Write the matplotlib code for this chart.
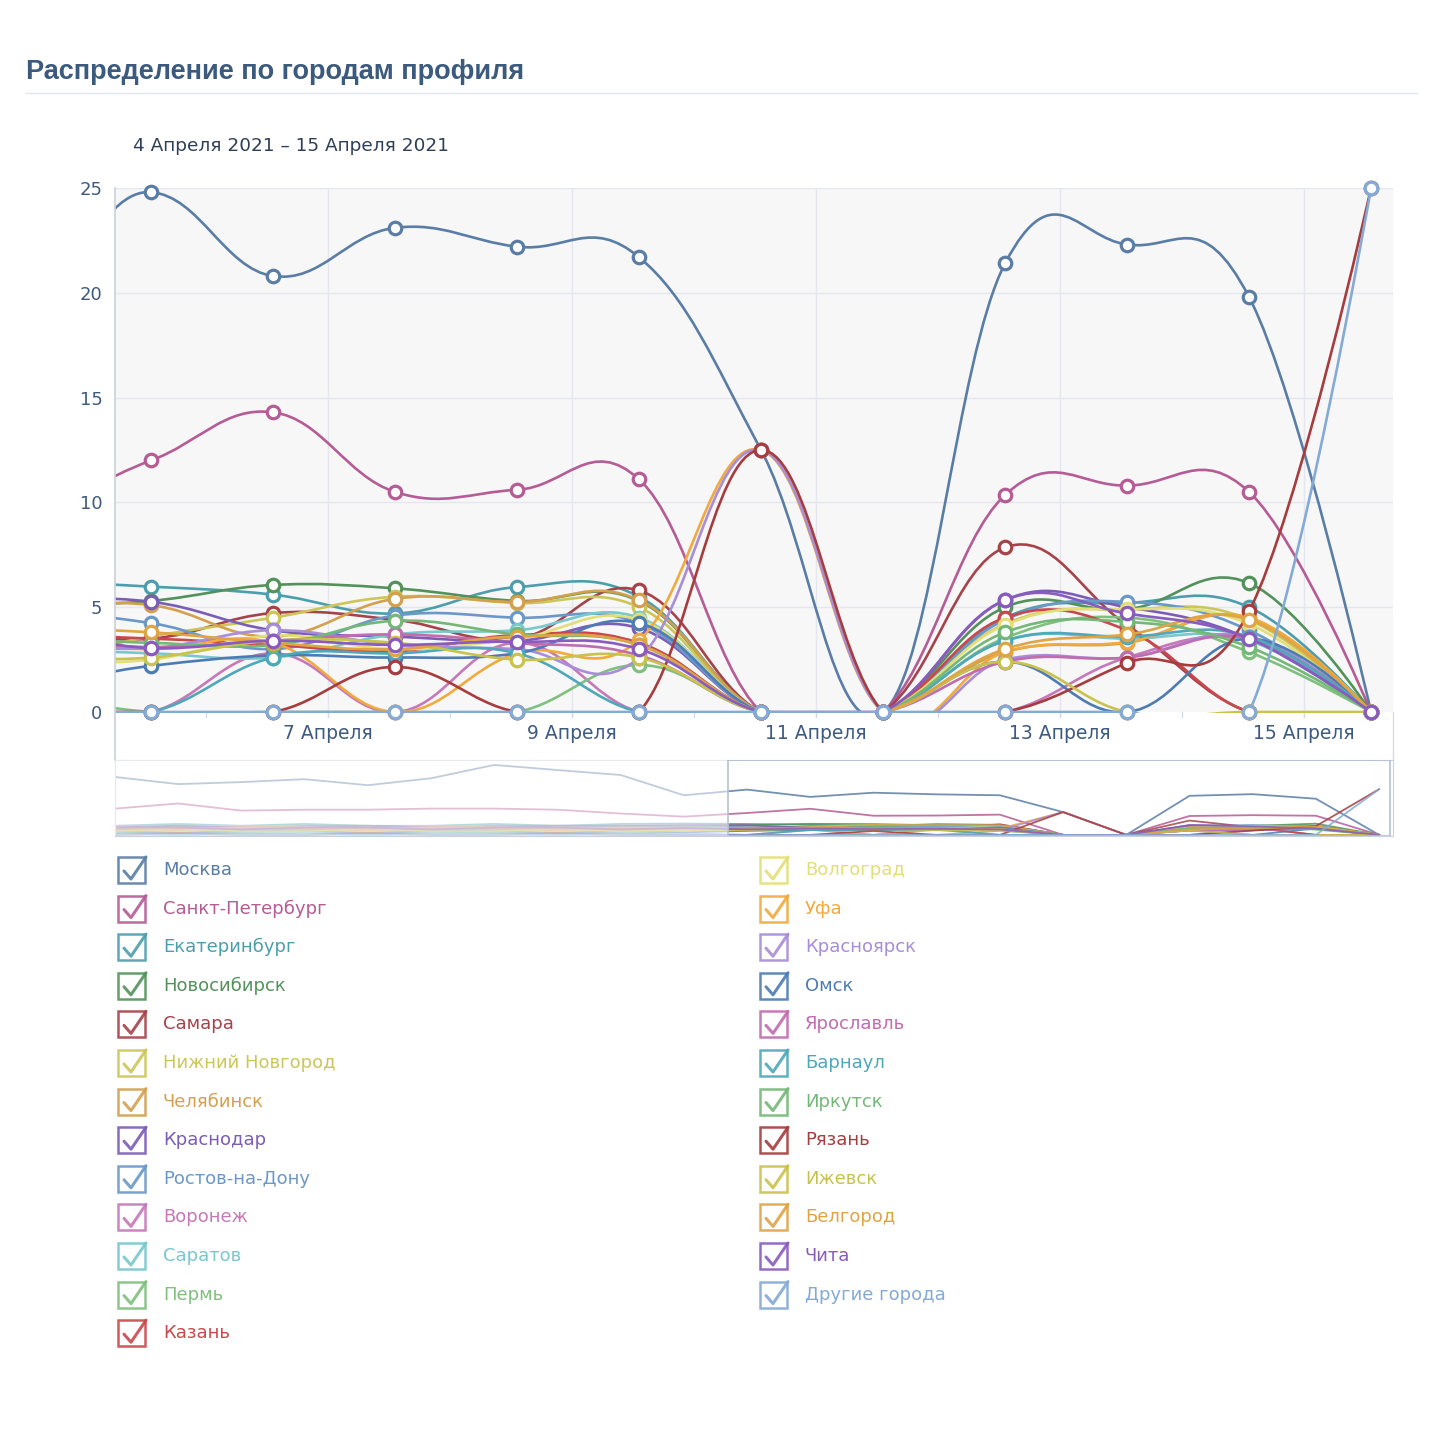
import numpy as np
import matplotlib
matplotlib.use('Agg')
import matplotlib.pyplot as plt
from matplotlib.path import Path
from matplotlib.patches import PathPatch, Rectangle
from matplotlib.lines import Line2D

W, H = 1438, 1429

cities = ['Москва', 'Санкт-Петербург', 'Екатеринбург', 'Новосибирск', 'Самара',
          'Нижний Новгород', 'Челябинск', 'Краснодар', 'Ростов-на-Дону', 'Воронеж',
          'Саратов', 'Пермь', 'Казань', 'Волгоград', 'Уфа', 'Красноярск', 'Омск',
          'Ярославль', 'Барнаул', 'Иркутск', 'Рязань', 'Ижевск', 'Белгород', 'Чита',
          'Другие города']

colors = ['#5a7da5', '#b55b95', '#4d9ead', '#52925a', '#a6434a',
          '#ccc659', '#d4a04e', '#7b5db6', '#6b98c8', '#c678b9',
          '#78c8cc', '#80c07f', '#c9484d', '#e3df78', '#f0aa3e', '#a88dd8', '#4d7cb4',
          '#c16cae', '#4ea8b9', '#74b878', '#a73c3e', '#c9c24c', '#dfa444', '#895bbf',
          '#84aad6']

# daily values, 27 March .. 15 April (last 11 are the visible window)
moskva    = [31.7, 27.8, 28.9, 30.5, 27.2, 31.0, 38.3, 35.5, 32.8, 21.7, 24.8, 20.8, 23.1, 22.2, 21.7, 12.5, 0, 21.4, 22.3, 19.8, 0]
spb       = [14.4, 17.2, 13.3, 13.8, 13.8, 14.4, 14.4, 13.8, 11.7, 10.0, 12.0, 14.3, 10.5, 10.6, 11.1, 0, 0, 10.35, 10.8, 10.5, 0]
ekb       = [5, 6, 5, 6, 5, 5, 6, 5, 6, 6.2, 5.98, 5.6, 4.7, 5.96, 5.5, 0, 0, 4.5, 5.2, 5.0, 0]
nsk       = [4, 5, 4, 5, 5, 4, 5, 5, 4.5, 5.0, 5.3, 6.06, 5.9, 5.3, 5.3, 0, 0, 5.0, 4.9, 6.15, 0]
samara    = [3, 3, 4, 3, 3, 4, 3, 4, 3.5, 3.8, 3.5, 4.72, 4.4, 3.5, 5.8, 0, 0, 7.85, 4.15, 0, 0]
nnov      = [2, 3, 2, 3, 2, 3, 2, 3, 2.5, 2.5, 3.6, 4.5, 5.5, 5.2, 5.0, 0, 0, 4.2, 4.9, 4.4, 0]
chel      = [4, 4, 5, 4, 4, 5, 4, 4, 5, 5.0, 5.1, 3.6, 5.4, 5.25, 5.34, 0, 0, 2.86, 3.3, 4.5, 0]
krasnodar = [4, 5, 4, 4, 5, 4, 4, 5, 5, 5.3, 5.26, 3.9, 3.6, 3.4, 4.0, 0, 0, 5.34, 5.0, 3.5, 0]
rostov    = [3, 4, 3, 4, 3, 4, 3, 4, 4, 4.7, 4.24, 3.0, 4.6, 4.5, 4.24, 0, 0, 4.4, 5.25, 3.9, 0]
voronezh  = [2, 1, 2, 3, 1, 2, 3, 2, 1, 0, 0, 2.8, 0, 3.3, 0, 0, 0, 0, 2.6, 3.4, 0]
saratov   = [3, 3, 2, 3, 4, 3, 3, 2, 3, 3.0, 2.8, 2.6, 3.7, 3.9, 4.5, 0, 0, 3.4, 3.5, 3.4, 0]
perm      = [1, 2, 1, 0, 1, 2, 1, 1, 2, 0.9, 0, 0, 0, 0, 2.24, 0, 0, 3.53, 4.5, 2.86, 0]
kazan     = [3, 4, 3, 3, 4, 3, 4, 3, 3, 3.6, 3.5, 3.2, 2.9, 3.67, 3.3, 0, 0, 4.5, 3.9, 0, 0]
volgograd = [2, 2, 3, 2, 2, 3, 2, 2, 2.5, 2.4, 2.5, 3.65, 3.0, 3.5, 4.4, 0, 0, 4.15, 4.9, 4.2, 0]
ufa       = [3, 2, 3, 3, 2, 3, 3, 2, 3, 3.3, 3.0, 3.3, 0, 2.8, 3.43, 12.5, 0, 2.86, 3.34, 4.5, 0]
krasnoyarsk = [3, 3, 2, 3, 3, 2, 3, 3, 3, 3.2, 3.05, 3.9, 3.2, 3.0, 2.58, 12.5, 0, 2.5, 2.6, 3.6, 0]
omsk      = [2, 1, 2, 2, 1, 2, 2, 1, 2, 1.4, 2.2, 2.7, 2.6, 2.8, 4.24, 0, 0, 2.4, 0, 3.5, 0]
yaroslavl = [3, 3, 4, 3, 3, 4, 3, 3, 3, 3.4, 3.1, 3.4, 3.7, 3.3, 2.7, 0, 0, 2.4, 2.6, 3.5, 0]
barnaul   = [1, 0, 1, 1, 0, 1, 1, 0, 1, 0, 0, 2.6, 2.8, 2.8, 0, 0, 0, 3.4, 3.6, 3.6, 0]
irkutsk   = [3, 4, 3, 3, 4, 3, 3, 4, 3, 3.5, 3.3, 3.2, 4.35, 3.7, 3.2, 0, 0, 3.8, 4.3, 3.1, 0]
ryazan    = [0, 1, 0, 0, 1, 0, 0, 1, 0, 0, 0, 0, 2.15, 0, 0, 12.5, 0, 0, 2.34, 4.8, 25]
izhevsk   = [2, 3, 2, 2, 3, 2, 2, 3, 2, 2.5, 2.6, 3.4, 3.3, 2.5, 2.6, 0, 0, 2.4, 0, 0, 0]
belgorod  = [4, 3, 4, 4, 3, 4, 4, 3, 4, 4.0, 3.8, 3.3, 3.0, 3.6, 3.2, 0, 0, 3.0, 3.7, 4.4, 0]
chita     = [4, 4, 3, 4, 4, 3, 4, 4, 3, 3.8, 3.05, 3.4, 3.2, 3.35, 3.0, 0, 0, 5.34, 4.7, 3.5, 0]
drugie    = [0, 0, 0, 0, 0, 0, 0, 0, 0, 0, 0, 0, 0, 0, 0, 0, 0, 0, 0, 0, 25]

series = [moskva, spb, ekb, nsk, samara, nnov, chel, krasnodar, rostov, voronezh,
          saratov, perm, kazan, volgograd, ufa, krasnoyarsk, omsk, yaroslavl, barnaul,
          irkutsk, ryazan, izhevsk, belgorod, chita, drugie]

tick_days = [7, 9, 11, 13, 15]
tick_labels = ['7 Апреля', '9 Апреля', '11 Апреля', '13 Апреля', '15 Апреля']

# x in "April days", points sit a bit after midday
days = -4.45 + np.arange(len(moskva))
xlim = (5.255, 15.73)
ylim = (-2.29, 25)
nav_xlim = (-4.45, 15.77)


def fx(x):
    return x / W


def fy(y):
    return 1 - y / H


def spline(xs, ys, sx=122.0, sy=20.96, sm=1.5):
    # highcharts-like spline, computed in pixel units
    X = np.asarray(xs) * sx
    Y = np.asarray(ys, dtype=float) * sy
    n = len(X)
    lc = [None] * n
    rc = [None] * n
    for i in range(1, n - 1):
        lx = (sm * X[i] + X[i - 1]) / (sm + 1)
        ly = (sm * Y[i] + Y[i - 1]) / (sm + 1)
        rx = (sm * X[i] + X[i + 1]) / (sm + 1)
        ry = (sm * Y[i] + Y[i + 1]) / (sm + 1)
        corr = (ry - ly) * (rx - X[i]) / (rx - lx) + Y[i] - ry
        lc[i] = (lx, ly + corr)
        rc[i] = (rx, ry + corr)
    verts = [(X[0], Y[0])]
    codes = [Path.MOVETO]
    for i in range(1, n):
        c1 = rc[i - 1] if rc[i - 1] is not None else (X[i - 1], Y[i - 1])
        c2 = lc[i] if lc[i] is not None else (X[i], Y[i])
        verts += [c1, c2, (X[i], Y[i])]
        codes += [Path.CURVE4] * 3
    verts = np.array(verts) / [sx, sy]
    return Path(verts, codes)


fig = plt.figure(figsize=(W / 100, H / 100), dpi=100)

fig.text(fx(26), fy(72), 'Распределение по городам профиля', fontsize=19.5,
         fontweight='bold', family='Liberation Sans', color='#3b5a7e', va='center')
fig.add_artist(Line2D([fx(26), fx(1417)], [fy(93), fy(93)], color='#e3e7ed', lw=1))
fig.text(fx(133), fy(146), '4 Апреля 2021 – 15 Апреля 2021', fontsize=13.3,
         color='#2e3f58', va='center')

# main chart
ax = fig.add_axes([fx(115), fy(760), (1393 - 115) / W, (760 - 188) / H])
ax.set_xlim(*xlim)
ax.set_ylim(*ylim)
ax.axhspan(0, 25, color='#f7f7f8', zorder=0, lw=0)
for v in [5, 10, 15, 20, 25]:
    ax.plot(xlim, [v, v], color='#e4e7ee', lw=1, zorder=0.5)
for d in tick_days:
    ax.plot([d, d], [-0.25, 25], color='#e4e7ee', lw=1, zorder=0.5)
for d in range(6, 16):
    ax.plot([d, d], [-0.25, 0], color='#d6dce6', lw=1, zorder=0.5)
for d, lab in zip(tick_days, tick_labels):
    ax.text(d, -1.02, lab, ha='center', va='center', fontsize=13.5, color='#3d5a80')

ax.set_xticks([])
ax.set_yticks([0, 5, 10, 15, 20, 25])
ax.set_yticklabels(['0', '5', '10', '15', '20', '25'])
ax.tick_params(axis='y', length=0, pad=9, labelsize=13, labelcolor='#3d5a80')
for s in ['top', 'bottom', 'right']:
    ax.spines[s].set_visible(False)
ax.spines['left'].set_color('#c8d1dd')
ax.spines['left'].set_linewidth(1.2)
ax.plot([xlim[1], xlim[1]], [ylim[0], 0], color='#d6dce6', lw=1, clip_on=False)

# series lines are clipped to the plot band (0..25)
band = Rectangle((xlim[0], -0.07), xlim[1] - xlim[0], 26, transform=ax.transData)
vis = days >= xlim[0]
for k, (vals, c) in enumerate(zip(series, colors)):
    z = 2 + k * 0.01
    pp = PathPatch(spline(days, vals), fill=False, edgecolor=c, lw=1.9,
                   zorder=z, capstyle='round', joinstyle='round')
    ax.add_patch(pp)
    pp.set_clip_path(band)
    ax.plot(days[vis], np.array(vals)[vis], 'o', ms=9, mfc='white', mec=c,
            mew=2.3, zorder=z + 0.005, clip_on=False)

# navigator
nav = fig.add_axes([fx(115), fy(836), (1393 - 115) / W, (836 - 760) / H])
nav.set_xlim(*nav_xlim)
nav.set_ylim(-0.6, 41)
nav.set_xticks([])
nav.set_yticks([])
for s in nav.spines.values():
    s.set_color('#c8d1dd')
for k, (vals, c) in enumerate(zip(series, colors)):
    nav.plot(days, vals, color=c, lw=1.3, alpha=0.85, zorder=2 + k * 0.01)
nav.add_patch(Rectangle((nav_xlim[0], -0.6), xlim[0] - nav_xlim[0], 41.6,
                        color='white', alpha=0.55, zorder=5, lw=0))
nav.add_patch(Rectangle((xlim[0], -0.6), xlim[1] - xlim[0], 41.6, fill=False,
                        edgecolor='#b5c2d3', lw=1.2, zorder=6))

# legend with checkboxes
for k, (name, c) in enumerate(zip(cities, colors)):
    col, row = divmod(k, 13)
    x0 = 118 if col == 0 else 760
    y0 = 870 + 38.6 * row
    fig.add_artist(Rectangle((fx(x0), fy(y0 + 13)), 27 / W, 26 / H,
                             transform=fig.transFigure, facecolor='white',
                             edgecolor=c, lw=1.8, alpha=0.9))
    fig.add_artist(Line2D([fx(x0 + 6), fx(x0 + 13), fx(x0 + 28)],
                          [fy(y0 + 1), fy(y0 + 9), fy(y0 - 13)],
                          color=c, lw=2.2, alpha=0.9, solid_capstyle='round'))
    fig.text(fx(x0 + 45), fy(y0), name, fontsize=13, color=c, va='center')

fig.savefig('out.png', dpi=100)
